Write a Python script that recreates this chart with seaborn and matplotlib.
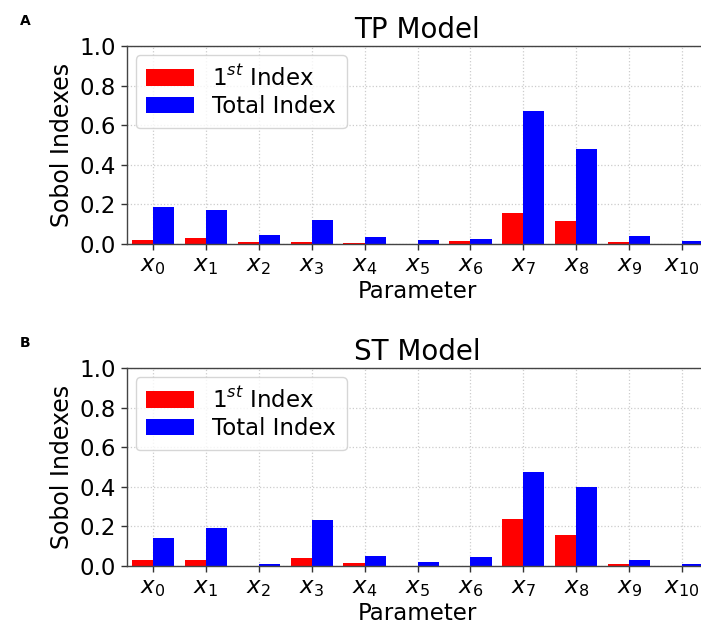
import numpy as np
import pandas as pd
import matplotlib
matplotlib.use("Agg")
import matplotlib.pyplot as plt
import seaborn as sns

params = [f"x{i}" for i in range(11)]
tick_labels = [f"$x_{{{i}}}$" for i in range(11)]
series_names = ["$1^{st}$ Index", "Total Index"]

tp_first = [0.020, 0.032, 0.010, 0.012, 0.003, 0.001, 0.013, 0.159, 0.116, 0.010, 0.002]
tp_total = [0.186, 0.174, 0.046, 0.120, 0.037, 0.020, 0.027, 0.670, 0.478, 0.042, 0.014]
st_first = [0.028, 0.030, 0.000, 0.038, 0.013, 0.001, 0.000, 0.238, 0.159, 0.012, 0.000]
st_total = [0.140, 0.192, 0.010, 0.231, 0.049, 0.018, 0.045, 0.477, 0.398, 0.032, 0.012]

sns.set_style("ticks")
plt.rcParams["font.family"] = ["DejaVu Sans"]
plt.rcParams["text.color"] = "black"
plt.rcParams["axes.labelcolor"] = "black"

W, H = 701, 623
fig = plt.figure(figsize=(W / 100, H / 100), dpi=100)

FS = 16.5

def make_df(first, total):
    return pd.DataFrame({
        "Parameter": params * 2,
        "Value": list(first) + list(total),
        "Series": [series_names[0]] * 11 + [series_names[1]] * 11,
    })

panels = [
    ("TP Model", "A", tp_first, tp_total, 244),
    ("ST Model", "B", st_first, st_total, 566),
]

for title, letter, first, total, ybot in panels:
    left = 126.5 / W
    width = 582 / W
    height = 198 / H
    bottom = (H - ybot) / H
    ax = fig.add_axes([left, bottom, width, height])
    df = make_df(first, total)
    sns.barplot(data=df, x="Parameter", y="Value", hue="Series",
                palette=["#ff0000", "#0000ff"], ax=ax, width=0.8,
                saturation=1, linewidth=0)
    ax.set_xlim(-0.5, 10.5)
    ax.set_ylim(0, 1.0)
    ax.set_yticks([0, 0.2, 0.4, 0.6, 0.8, 1.0])
    ax.set_yticklabels(["0.0", "0.2", "0.4", "0.6", "0.8", "1.0"])
    ax.set_xticks(range(11))
    ax.set_xticklabels(tick_labels)
    ax.tick_params(labelsize=FS, length=4, width=1, colors="#333333", labelcolor="black")
    ax.grid(True, linestyle=":", color="#cccccc", linewidth=0.9)
    ax.set_axisbelow(True)
    for s in ax.spines.values():
        s.set_color("#444444")
        s.set_linewidth(1.0)
    ax.set_xlabel("Parameter", fontsize=FS, labelpad=1.5, color="black")
    ax.set_ylabel("Sobol Indexes", fontsize=FS + 0.5, labelpad=4, color="black")
    ax.set_title(title, fontsize=20, pad=6, color="black")
    leg = ax.legend(loc="upper left", fontsize=FS, frameon=True,
                    handlelength=2.1, handleheight=0.75, handletextpad=0.8,
                    borderaxespad=0.4, labelspacing=0.2, borderpad=0.45)
    leg.set_title(None)
    for t in leg.get_texts():
        t.set_color("black")
    leg.get_frame().set_edgecolor("#cccccc")
    fig.text(20 / W, 1 - (ybot - 223) / H, letter, fontsize=10, fontweight="bold",
             ha="left", va="center", color="black")

fig.savefig("out.png", dpi=100)
